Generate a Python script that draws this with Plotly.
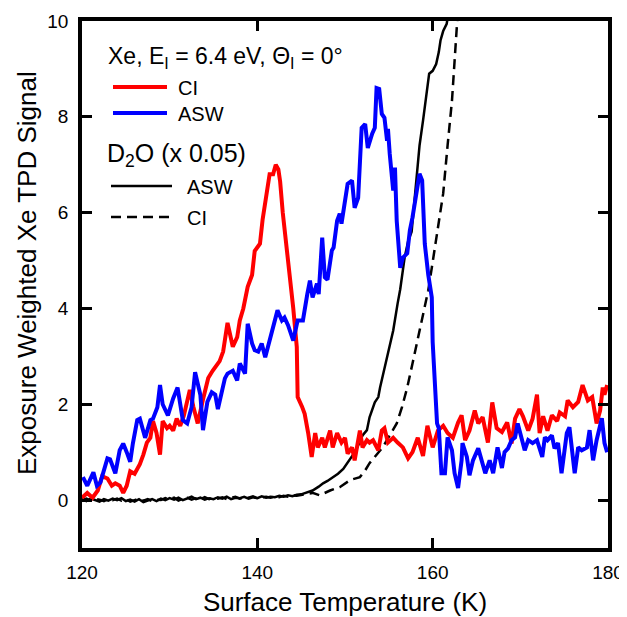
import plotly.graph_objects as go

# ---------------- data ----------------
ci_temp = [
    120.0, 120.6, 121.2, 121.8, 122.3, 122.9, 123.4, 123.8, 124.3, 124.7,
    125.1, 125.5, 126.0, 126.6, 127.0, 127.4, 127.8, 128.1, 128.5, 128.9,
    129.2, 129.7, 130.0, 130.4, 130.8, 131.2, 131.6, 132.0, 132.3, 132.7,
    133.2, 133.8, 134.4, 134.9, 135.4, 135.7, 136.1, 136.6, 137.2, 137.7,
    138.0, 138.4, 138.9, 139.4, 139.7, 140.3, 140.6, 141.1, 141.4, 141.8,
    142.1, 142.4, 142.6, 142.9, 143.4, 143.7, 144.1, 144.5, 144.6, 145.1,
    145.4, 145.8, 146.2, 146.6, 146.9, 147.4, 147.7, 148.3, 148.6, 149.1,
    149.6, 150.0, 150.3, 150.8, 151.1, 151.7, 152.0, 152.5, 152.8, 153.2,
    153.8, 154.2, 154.5, 154.9, 155.5, 156.0, 156.6, 157.2, 157.7, 158.3,
    158.9, 159.4, 160.0, 160.6, 161.2, 161.7, 162.3, 162.9, 163.3, 163.7,
    164.2, 164.8, 165.2, 165.7, 166.3, 166.8, 167.3, 167.9, 168.5, 169.0,
    169.4, 169.9, 170.3, 170.9, 171.4, 171.9, 172.2, 172.6, 173.1, 173.6,
    174.2, 174.5, 175.1, 175.4, 176.0, 176.6, 177.1, 177.7, 178.2, 178.7,
    179.1, 179.4, 179.6, 179.9,
]
ci_signal = [
    0.05, 0.15, 0.05, 0.2, 0.5, 0.45, 0.3, 0.35, 0.3, 0.15,
    0.3, 0.6, 0.55, 0.75, 0.95, 1.2, 1.3, 1.65, 1.4, 0.95,
    1.65, 1.5, 1.55, 1.45, 1.7, 1.55, 1.75, 2.1, 2.3, 1.95,
    1.6, 2.1, 2.55, 2.7, 2.85, 2.9, 3.1, 3.7, 3.2, 3.4,
    3.75, 4.0, 4.45, 4.7, 5.2, 5.35, 5.85, 6.4, 6.8, 6.8,
    7.0, 6.9, 6.65, 6.0, 5.2, 4.8, 4.0, 3.2, 2.15, 1.95,
    1.8, 1.4, 0.9, 1.4, 1.1, 1.3, 1.1, 1.45, 1.1, 1.4,
    1.2, 1.3, 0.97, 1.1, 0.83, 1.45, 1.1, 1.25, 1.2, 1.25,
    1.04, 1.45, 1.5, 1.2, 1.3, 1.2, 1.1, 0.87, 1.0, 1.3,
    0.92, 1.55, 1.1, 1.45, 1.55, 1.4, 1.3, 1.62, 1.77, 1.25,
    1.45, 1.87, 1.6, 1.73, 1.2, 2.04, 1.5, 1.42, 1.62, 1.18,
    1.7, 1.9, 1.75, 1.45, 1.7, 2.2, 1.4, 1.75, 1.45, 1.77,
    1.65, 1.83, 1.75, 2.08, 1.94, 2.05, 2.4, 2.08, 2.15, 1.6,
    1.87, 2.35, 2.2, 2.4,
]

asw_temp = [
    120.1, 120.6, 121.3, 121.7, 122.1, 122.5, 122.9, 123.2, 123.8, 124.3,
    124.7, 125.1, 125.5, 125.8, 126.3, 126.6, 127.2, 127.8, 128.1, 128.6,
    128.9, 129.2, 129.8, 130.4, 130.9, 131.5, 132.0, 132.5, 132.9, 133.5,
    133.8, 134.3, 134.8, 135.2, 135.5, 136.0, 136.3, 136.6, 137.2, 137.7,
    138.0, 138.6, 138.9, 139.4, 139.7, 140.1, 140.5, 140.9, 141.4, 142.0,
    142.3, 142.8, 143.1, 143.5, 144.1, 144.6, 145.2, 145.7, 146.0, 146.3,
    146.8, 147.0, 147.4, 147.7, 148.0, 148.5, 148.7, 149.1, 149.4, 149.6,
    150.0, 150.3, 150.8, 151.1, 151.5, 151.9, 152.3, 152.6, 153.1, 153.4,
    153.6, 153.9, 154.2, 154.5, 154.8, 154.9, 155.1, 155.5, 155.7, 155.9,
    156.3, 156.6, 157.1, 157.4, 157.7, 158.2, 158.5, 158.8, 159.1, 159.5,
    159.7, 159.9, 160.0, 160.3, 160.5, 160.7, 161.0, 161.4, 161.7, 162.2,
    162.5, 162.9, 163.3, 163.4, 163.9, 164.2, 164.6, 165.2, 165.6, 166.0,
    166.5, 166.9, 167.4, 167.9, 168.2, 168.6, 169.0, 169.4, 169.7, 170.2,
    170.5, 170.9, 171.4, 171.9, 172.5, 172.8, 173.1, 173.6, 173.9, 174.3,
    174.7, 175.3, 175.6, 176.2, 176.6, 177.0, 177.6, 177.9, 178.3, 178.7,
    179.3, 179.6, 179.9,
]
asw_signal = [
    0.48, 0.3, 0.58, 0.3, 0.37, 0.6, 0.87, 0.85, 0.56, 1.04,
    1.18, 1.0, 0.8, 1.18, 1.67, 1.7, 1.3, 1.67, 1.7, 1.94,
    2.4, 2.0, 1.77, 2.12, 2.35, 1.67, 1.6, 1.94, 2.67, 2.2,
    1.46, 2.05, 2.25, 2.2, 1.9, 2.3, 2.54, 2.64, 2.7, 2.5,
    2.85, 2.64, 3.68, 3.27, 3.13, 3.1, 3.27, 2.98, 3.33, 3.68,
    3.96, 3.75, 3.81, 3.65, 3.33, 3.75, 3.75, 4.3, 4.58, 4.23,
    4.52, 4.3, 5.48, 4.65, 4.6, 5.21, 5.27, 5.83, 5.98, 5.77,
    6.19, 6.6, 6.67, 6.1, 6.31, 7.77, 7.85, 7.35, 7.65, 7.77,
    8.6, 8.58, 8.06, 7.98, 7.5, 7.75, 7.23, 6.46, 6.94, 5.83,
    4.85, 5.06, 5.15, 5.63, 5.9, 6.46, 6.81, 6.67, 5.35, 4.7,
    4.44, 4.23, 3.3, 2.0, 1.6, 1.5, 0.56, 0.56, 1.31, 1.04,
    0.56, 0.25, 0.83, 1.19, 0.9, 0.52, 0.83, 1.08, 0.83, 0.56,
    0.83, 0.56, 1.1, 0.67, 1.0, 1.08, 1.25, 1.31, 1.6, 1.21,
    1.04, 1.25, 1.19, 1.25, 0.9, 1.31, 1.25, 1.35, 1.08, 1.19,
    0.56, 1.4, 1.52, 0.56, 1.1, 1.04, 1.1, 1.46, 0.83, 1.25,
    1.71, 1.19, 1.0,
]

d2o_asw_temp = [
    120.0, 120.5, 121.0, 121.5, 122.0, 122.5, 123.0, 123.5, 124.0, 124.5,
    125.0, 125.5, 126.0, 126.5, 127.0, 127.5, 128.0, 128.5, 129.0, 129.5,
    130.0, 130.5, 131.0, 131.5, 132.0, 132.5, 133.0, 133.5, 134.0, 134.5,
    135.0, 135.5, 136.0, 136.5, 137.0, 137.5, 138.0, 138.5, 139.0, 139.5,
    140.0, 140.5, 141.0, 141.5, 142.0, 142.5, 143.0, 143.5, 144.0, 144.5,
    145.0, 145.7, 146.3, 147.0, 147.5, 148.0, 148.6, 149.2, 149.8, 150.2,
    150.6, 151.0, 151.4, 152.0, 152.5, 152.8, 153.4, 153.8, 154.0, 154.3,
    154.9, 155.5, 156.0, 156.3, 156.8, 157.2, 157.6, 158.2, 158.5, 158.9,
    159.3, 159.6, 160.0, 160.4, 160.7, 160.9, 161.2, 161.6, 162.0,
]
d2o_asw_signal = [
    0.02, -0.02, 0.03, 0.0, -0.03, 0.02, -0.01, 0.03, 0.0, 0.04,
    -0.02, 0.01, -0.03, 0.02, -0.04, -0.01, 0.02, -0.02, 0.03, 0.0,
    0.04, 0.01, 0.05, 0.0, 0.03, 0.07, 0.02, 0.05, 0.01, 0.04,
    0.02, 0.06, 0.03, 0.07, 0.02, 0.05, 0.04, 0.07, 0.03, 0.06,
    0.04, 0.08, 0.05, 0.07, 0.06, 0.09, 0.07, 0.1, 0.08, 0.11,
    0.12, 0.16, 0.2, 0.28, 0.35, 0.4, 0.48, 0.55, 0.65, 0.75,
    0.87, 0.97, 1.1, 1.35, 1.46, 1.73, 2.04, 2.15, 2.35, 2.6,
    3.06, 3.54, 4.1, 4.4, 5.06, 5.4, 5.6, 6.88, 7.4, 7.92,
    8.48, 8.9, 8.96, 9.1, 9.35, 9.6, 9.79, 9.94, 10.4,
]

d2o_ci_temp = [
    120.0, 120.5, 121.0, 121.5, 122.0, 122.5, 123.0, 123.5, 124.0, 124.5,
    125.0, 125.5, 126.0, 126.5, 127.0, 127.5, 128.0, 128.5, 129.0, 129.5,
    130.0, 130.5, 131.0, 131.5, 132.0, 132.5, 133.0, 133.5, 134.0, 134.5,
    135.0, 135.5, 136.0, 136.5, 137.0, 137.5, 138.0, 138.5, 139.0, 139.5,
    140.0, 140.5, 141.0, 141.5, 142.0, 142.5, 143.0, 143.5, 144.0, 144.5,
    145.0, 145.6, 146.3, 147.1, 147.7, 148.3, 149.4, 150.6, 151.7, 152.3,
    152.8, 153.6, 154.3, 155.1, 155.9, 156.5, 157.1, 157.7, 158.5, 159.5,
    159.9, 160.5, 161.2, 161.7, 162.2, 162.8, 163.1,
]
d2o_ci_signal = [
    0.0, 0.03, -0.01, 0.02, 0.01, -0.02, 0.02, 0.0, 0.03, -0.01,
    0.02, -0.03, 0.0, 0.03, -0.01, 0.02, -0.02, 0.01, 0.0, 0.04,
    0.02, 0.05, -0.01, 0.03, 0.05, 0.01, 0.04, 0.02, 0.06, 0.02,
    0.05, 0.03, 0.06, 0.02, 0.05, 0.07, 0.03, 0.06, 0.05, 0.08,
    0.04, 0.06, 0.07, 0.05, 0.08, 0.06, 0.09, 0.07, 0.1, 0.09,
    0.11, 0.13, 0.15, 0.1, 0.15, 0.2, 0.27, 0.42, 0.48, 0.62,
    0.77, 0.94, 1.1, 1.35, 1.6, 1.94, 2.35, 2.85, 3.5, 4.38,
    4.85, 5.56, 6.4, 7.4, 8.33, 10.0, 10.6,
]

x_ticks = [120, 140, 160, 180]
y_ticks = [0, 2, 4, 6, 8, 10]

# ---------------- figure ----------------
# The page adds an 8px body margin, so the figure is shrunk by 8px.
OFF = 8
W, H = 627 - OFF, 617 - OFF
# plot area in the reference screenshot (page pixels)
REF_L, REF_R, REF_T, REF_B = 82, 608, 21, 548
L, R = REF_L - OFF, W - (REF_R - OFF)
T, B = REF_T - OFF, H - (REF_B - OFF)


def px(xp):
    return (xp - REF_L) / (REF_R - REF_L)


def py(yp):
    return (REF_B - yp) / (REF_B - REF_T)


fig = go.Figure()
fig.add_trace(go.Scatter(x=d2o_asw_temp, y=d2o_asw_signal, mode="lines",
                         line=dict(color="black", width=2.5), name="D2O ASW"))
fig.add_trace(go.Scatter(x=d2o_ci_temp, y=d2o_ci_signal, mode="lines",
                         line=dict(color="black", width=2.5, dash="10px,6px"), name="D2O CI"))
fig.add_trace(go.Scatter(x=ci_temp, y=ci_signal, mode="lines",
                         line=dict(color="#ff0000", width=4), name="CI"))
fig.add_trace(go.Scatter(x=asw_temp, y=asw_signal, mode="lines",
                         line=dict(color="#0000ff", width=4), name="ASW"))

axis_common = dict(
    showline=True, linewidth=3.5, linecolor="black", mirror="ticks",
    ticks="inside", ticklen=10, tickwidth=3, tickcolor="black",
    showgrid=False, zeroline=False, tickfont=dict(size=19, color="black"),
    automargin=False,
)

fig.update_xaxes(range=[120, 180], tickvals=x_ticks, ticklabelstandoff=4,
                 title=dict(text="Surface Temperature (K)", font=dict(size=26), standoff=16),
                 **axis_common)
fig.update_yaxes(range=[-1, 10], tickvals=y_ticks, ticklabelstandoff=6,
                 **axis_common)

shapes = [
    dict(type="line", xref="paper", yref="paper", x0=px(113), x1=px(167), y0=py(87), y1=py(87),
         line=dict(color="#ff0000", width=4)),
    dict(type="line", xref="paper", yref="paper", x0=px(113), x1=px(167), y0=py(113), y1=py(113),
         line=dict(color="#0000ff", width=4)),
    dict(type="line", xref="paper", yref="paper", x0=px(111), x1=px(172), y0=py(186), y1=py(186),
         line=dict(color="black", width=2.5)),
    dict(type="line", xref="paper", yref="paper", x0=px(111), x1=px(172), y0=py(217), y1=py(217),
         line=dict(color="black", width=2.5, dash="10px,6px")),
]


def ann(text, xp, yp, size):
    return dict(text=text, xref="paper", yref="paper", x=px(xp), y=py(yp),
                xanchor="left", yanchor="middle", showarrow=False,
                font=dict(size=size, color="black"))


annotations = [
    ann("Xe, E<sub>I</sub> = 6.4 eV, Θ<sub>I</sub> = 0°", 106, 57, 23),
    ann("CI", 176, 88, 20),
    ann("ASW", 176, 114, 20),
    ann("D<sub>2</sub>O (x 0.05)", 105, 155, 25),
    ann("ASW", 185, 187, 20),
    ann("CI", 185, 218, 20),
    dict(text="Exposure Weighted Xe TPD Signal", xref="paper", yref="paper",
         x=px(27), y=py(273), xanchor="center", yanchor="middle", textangle=-90,
         showarrow=False, font=dict(size=26, color="black")),
]

fig.update_layout(
    width=W, height=H,
    margin=dict(l=L, r=R, t=T, b=B),
    plot_bgcolor="white", paper_bgcolor="white",
    showlegend=False,
    font=dict(family="Liberation Sans, Arial, sans-serif", color="black"),
    shapes=shapes, annotations=annotations,
)

fig.write_html("out.html")
